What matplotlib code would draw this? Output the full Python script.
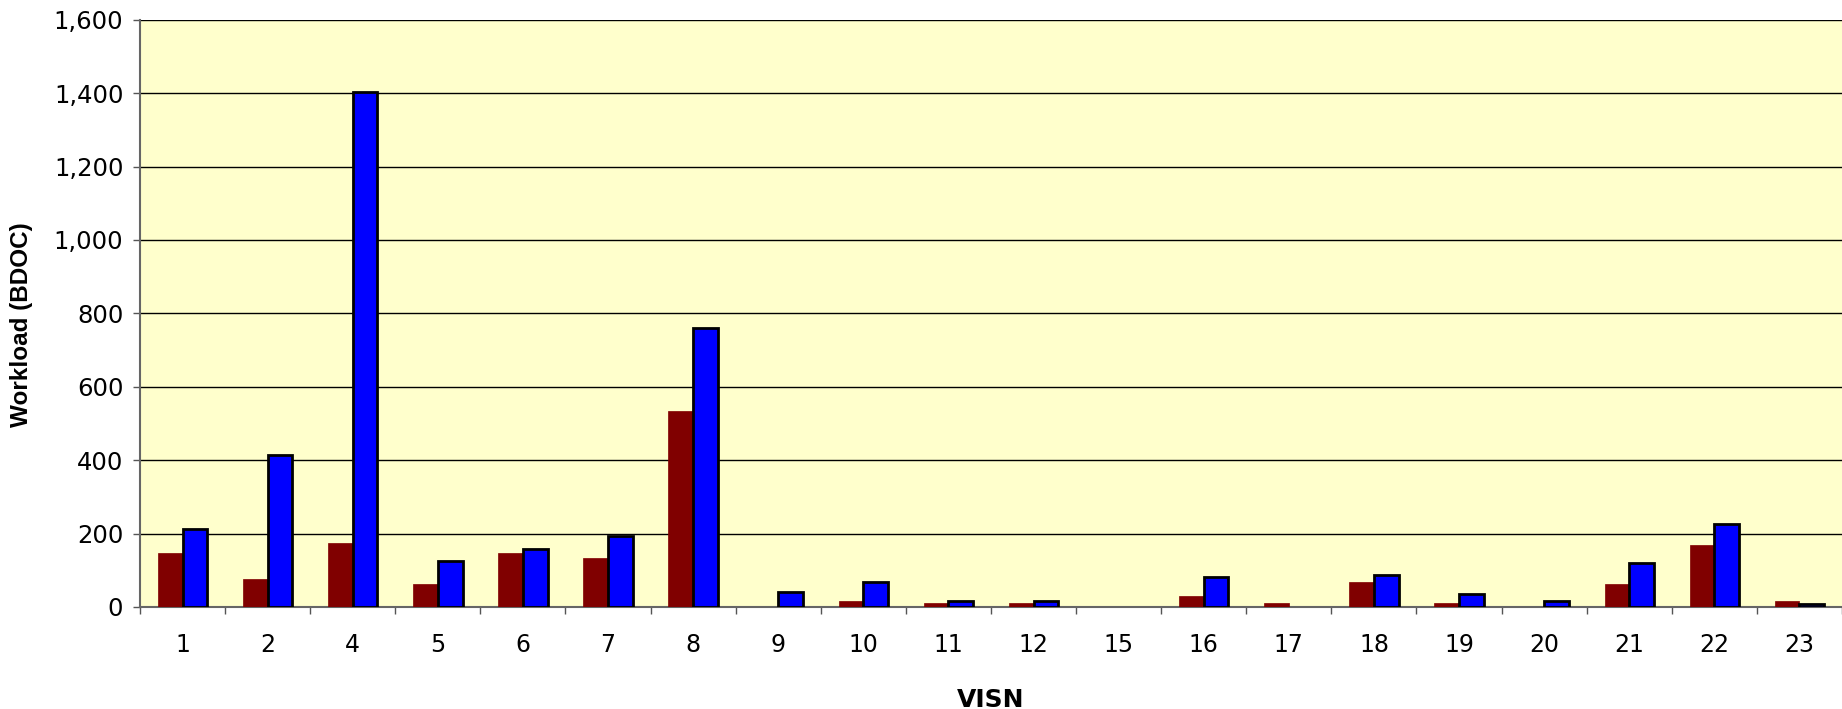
import matplotlib.pyplot as plt
import numpy as np
from matplotlib.ticker import FuncFormatter

# VISN workload, two series per VISN
visns = ['1', '2', '4', '5', '6', '7', '8', '9', '10', '11',
         '12', '15', '16', '17', '18', '19', '20', '21', '22', '23']
series_red = [148, 75, 173, 63, 148, 134, 534, 0, 16, 10,
              10, 0, 29, 10, 69, 10, 0, 63, 168, 16]
series_blue = [211, 415, 1402, 126, 159, 192, 760, 41, 68, 15,
               15, 0, 81, 0, 88, 35, 15, 120, 225, 9]

plt.rcParams['font.family'] = ['DejaVu Sans']

fig = plt.figure(figsize=(18.42, 7.09), dpi=100)
ax = fig.add_axes([0.076, 0.144, 0.924, 0.828])
ax.set_facecolor('#FFFFCC')

x = np.arange(len(visns))
w = 0.29
# no outline on empty bars (Excel draws nothing there)
lw_red = [0.5 if v > 0 else 0 for v in series_red]
lw_blue = [2 if v > 0 else 0 for v in series_blue]
ax.bar(x - w / 2, series_red, w, color='#800000', edgecolor='#800000', linewidth=lw_red, zorder=3)
ax.bar(x + w / 2, series_blue, w, color='#0000FF', edgecolor='black', linewidth=lw_blue, zorder=3)

ax.set_xlim(-0.5, len(visns) - 0.5)
ax.set_ylim(0, 1600)
ax.set_yticks(np.arange(0, 1601, 200))
ax.yaxis.set_major_formatter(FuncFormatter(lambda v, p: f'{int(v):,}'))
ax.yaxis.grid(True, color='black', linewidth=1, zorder=0)

ax.set_xticks(x)
ax.set_xticklabels(visns)
ax.set_xticks(np.arange(-0.5, len(visns), 1), minor=True)
ax.tick_params(axis='x', which='major', length=0, pad=19, labelsize=17)
ax.tick_params(axis='x', which='minor', length=5, width=1, color='#555555', direction='out')
ax.tick_params(axis='y', length=5, width=1, color='#555555', labelsize=17.5, pad=7)

for s in ['top', 'right']:
    ax.spines[s].set_visible(False)
for s in ['left', 'bottom']:
    ax.spines[s].set_color('#666666')
    ax.spines[s].set_linewidth(1.5)

ax.set_xlabel('VISN', fontsize=18, fontweight='bold', labelpad=22)
ax.set_ylabel('Workload (BDOC)', fontsize=17.5, fontweight='bold', labelpad=15, y=0.48,
              family=['Liberation Sans', 'DejaVu Sans'])

plt.savefig('out.png', dpi=100)
